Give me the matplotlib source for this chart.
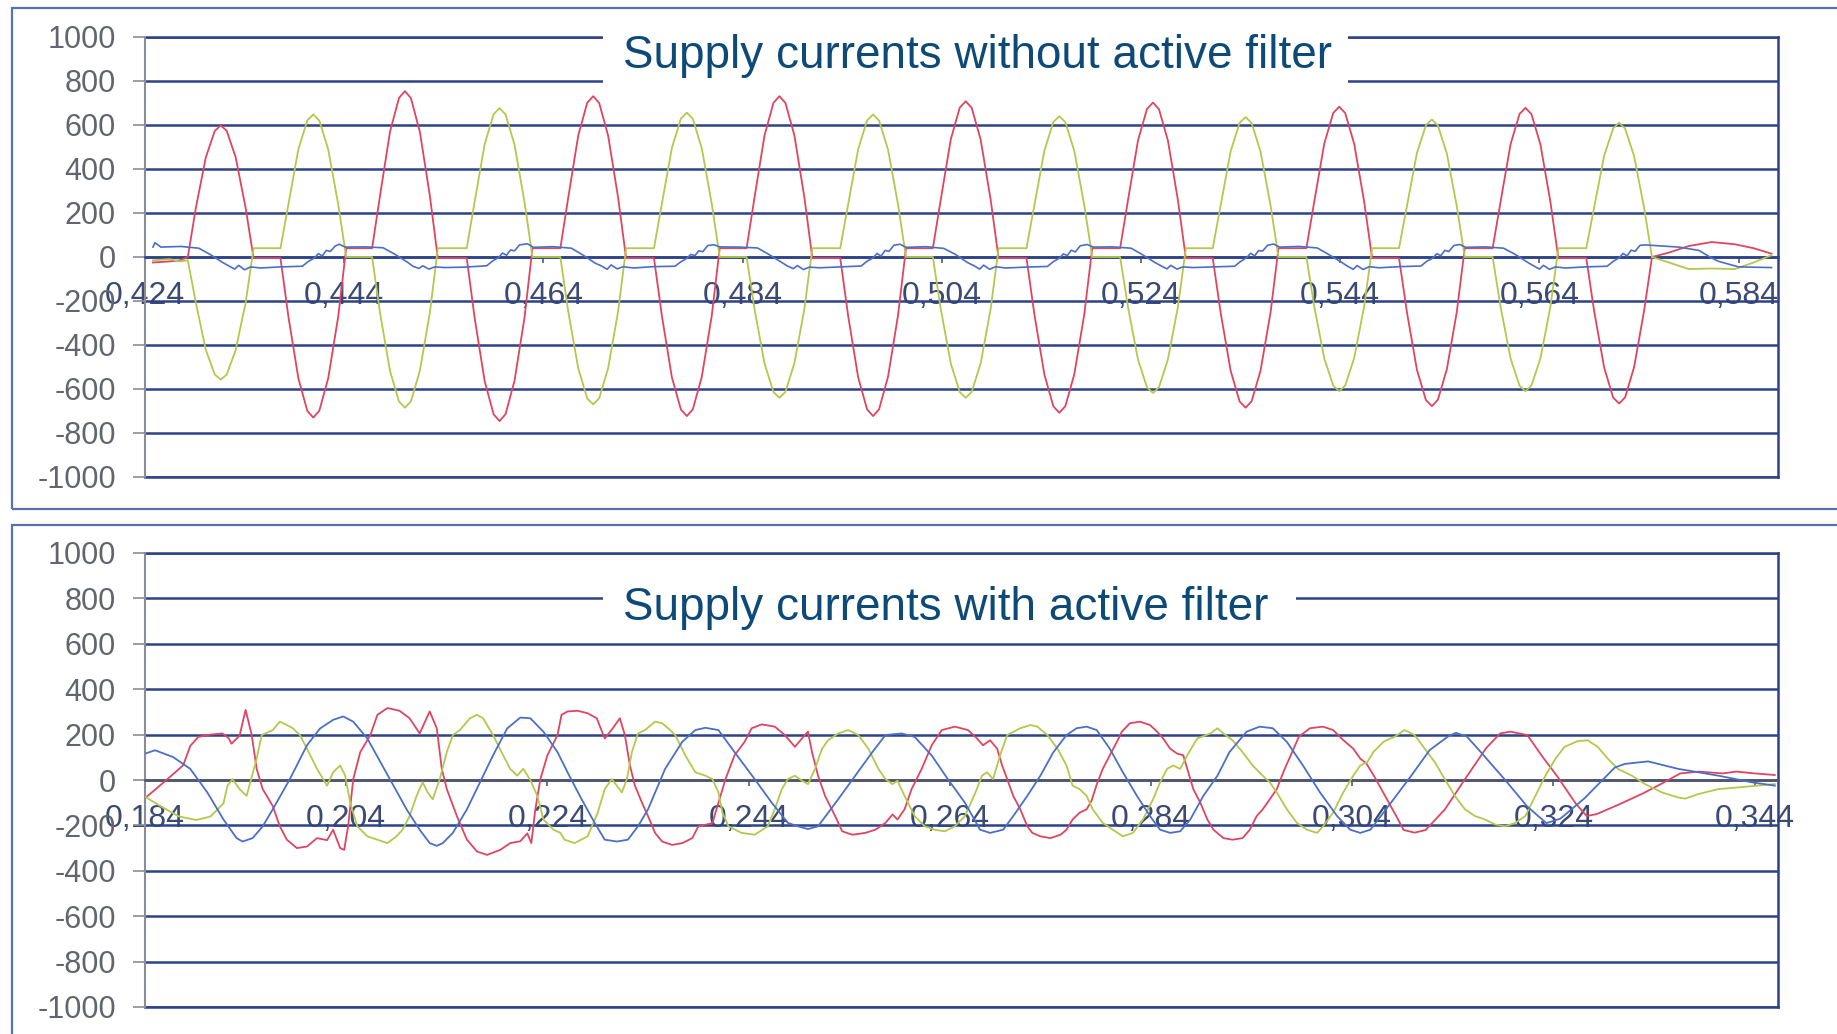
import matplotlib
matplotlib.use('Agg')
import matplotlib.pyplot as plt
from matplotlib.patches import Rectangle
from matplotlib.ticker import FixedLocator, FixedFormatter

plt.rcParams['font.family'] = ['Liberation Sans', 'DejaVu Sans']

# ---------------- data ----------------
y_ticks = [-1000, -800, -600, -400, -200, 0, 200, 400, 600, 800, 1000]
y_labels = ['-1000', '-800', '-600', '-400', '-200', '0', '200', '400', '600', '800', '1000']

top_xticks = [0.424, 0.444, 0.464, 0.484, 0.504, 0.524, 0.544, 0.564, 0.584]
top_xlabels = ['0,424', '0,444', '0,464', '0,484', '0,504', '0,524', '0,544', '0,564', '0,584']
bot_xticks = [0.184, 0.204, 0.224, 0.244, 0.264, 0.284, 0.304, 0.324, 0.344]
bot_xlabels = ['0,184', '0,204', '0,224', '0,244', '0,264', '0,284', '0,304', '0,324', '0,344']

title_top = 'Supply currents without active filter'
title_bot = 'Supply currents with active filter'

# --- top chart: supply currents without active filter ---
t_top = [
    0.4248, 0.4265, 0.4275,
    0.4283, 0.4291, 0.4301, 0.4310, 0.4316, 0.4322, 0.4331, 0.4341, 0.4349,
    0.4376, 0.4384, 0.4394, 0.4403, 0.4409, 0.4415, 0.4424, 0.4434, 0.4442,
    0.4468, 0.4476, 0.4486, 0.4495, 0.4501, 0.4507, 0.4516, 0.4526, 0.4534,
    0.4563, 0.4571, 0.4581, 0.4590, 0.4596, 0.4602, 0.4611, 0.4621, 0.4629,
    0.4657, 0.4665, 0.4675, 0.4684, 0.4690, 0.4696, 0.4705, 0.4715, 0.4723,
    0.4751, 0.4759, 0.4769, 0.4778, 0.4784, 0.4790, 0.4799, 0.4809, 0.4817,
    0.4844, 0.4852, 0.4862, 0.4871, 0.4877, 0.4883, 0.4892, 0.4902, 0.4910,
    0.4938, 0.4946, 0.4956, 0.4965, 0.4971, 0.4977, 0.4986, 0.4996, 0.5004,
    0.5031, 0.5039, 0.5049, 0.5058, 0.5064, 0.5070, 0.5079, 0.5089, 0.5097,
    0.5125, 0.5133, 0.5143, 0.5152, 0.5158, 0.5164, 0.5173, 0.5183, 0.5191,
    0.5219, 0.5227, 0.5237, 0.5246, 0.5252, 0.5258, 0.5267, 0.5277, 0.5285,
    0.5312, 0.5320, 0.5330, 0.5339, 0.5345, 0.5351, 0.5360, 0.5370, 0.5378,
    0.5406, 0.5414, 0.5424, 0.5433, 0.5439, 0.5445, 0.5454, 0.5464, 0.5472,
    0.5499, 0.5507, 0.5517, 0.5526, 0.5532, 0.5538, 0.5547, 0.5557, 0.5565,
    0.5593, 0.5601, 0.5611, 0.5620, 0.5626, 0.5632, 0.5641, 0.5651, 0.5659,
    0.5687, 0.5695, 0.5705, 0.5714, 0.5720, 0.5726, 0.5735, 0.5745, 0.5753,
    0.5770, 0.5790, 0.5813, 0.5836, 0.5855, 0.5873]

red_top = [
    -25, -20, -15,
    0, 222, 452, 573, 598, 574, 454, 224, -5,
    -5, -272, -552, -700, -730, -699, -550, -270, 40,
    40, 280, 570, 723, 754, 722, 568, 278, -5,
    -5, -278, -564, -715, -746, -714, -562, -276, 40,
    40, 272, 553, 701, 731, 700, 551, 270, -5,
    -5, -269, -547, -693, -723, -692, -545, -267, 40,
    40, 272, 553, 701, 731, 700, 552, 271, -5,
    -5, -269, -547, -693, -723, -692, -544, -266, 40,
    40, 263, 535, 679, 708, 678, 533, 261, -5,
    -5, -263, -535, -679, -708, -678, -533, -261, 40,
    40, 261, 531, 673, 702, 672, 529, 259, -5,
    -5, -255, -518, -657, -685, -656, -516, -253, 40,
    40, 254, 516, 655, 683, 654, 514, 252, -5,
    -5, -252, -513, -650, -678, -649, -511, -250, 40,
    40, 252, 513, 650, 678, 649, 511, 250, -5,
    -5, -248, -503, -639, -666, -638, -501, -246, 0,
    20, 50, 68, 58, 40, 15]

green_top = [
    -15, -10, -20,
    -15, -207, -421, -534, -557, -535, -423, -209, 40,
    40, 241, 490, 621, 648, 620, 488, 239, 0,
    0, -255, -518, -657, -685, -656, -516, -253, 40,
    40, 252, 512, 649, 677, 648, 510, 250, 0,
    0, -249, -507, -643, -670, -642, -505, -247, 40,
    40, 244, 496, 629, 656, 628, 494, 242, 0,
    0, -238, -484, -614, -640, -613, -482, -236, 40,
    40, 241, 490, 621, 648, 620, 488, 239, 0,
    0, -238, -484, -614, -640, -613, -483, -237, 40,
    40, 238, 484, 614, 640, 613, 482, 236, 0,
    0, -230, -467, -593, -618, -592, -465, -228, 40,
    40, 237, 481, 610, 636, 609, 479, 235, 0,
    0, -227, -461, -585, -610, -584, -459, -225, 40,
    40, 233, 473, 599, 625, 598, 471, 231, 0,
    0, -227, -461, -585, -610, -584, -460, -226, 40,
    40, 227, 461, 585, 610, 584, 459, 225, 0,
    -25, -55, -52, -55, -25, 8]

t_blue_top = [
    0.4248,
    0.4250, 0.4256, 0.4276, 0.4294, 0.4306, 0.4318, 0.4324, 0.4330, 0.4334, 0.4340, 0.4346,
    0.4356, 0.4376, 0.4398, 0.4404, 0.4410, 0.4414, 0.4418, 0.4422, 0.4426, 0.4431,
    0.4435, 0.4441, 0.4461, 0.4479, 0.4491, 0.4503, 0.4509, 0.4515, 0.4519, 0.4525, 0.4531,
    0.4541, 0.4561, 0.4583, 0.4589, 0.4595, 0.4599, 0.4603, 0.4607, 0.4611, 0.4616,
    0.4624, 0.4630, 0.4650, 0.4668, 0.4680, 0.4692, 0.4698, 0.4704, 0.4708, 0.4714, 0.4720,
    0.4730, 0.4750, 0.4772, 0.4778, 0.4784, 0.4788, 0.4792, 0.4796, 0.4800, 0.4805,
    0.4811, 0.4817, 0.4837, 0.4855, 0.4867, 0.4879, 0.4885, 0.4891, 0.4895, 0.4901, 0.4907,
    0.4917, 0.4937, 0.4959, 0.4965, 0.4971, 0.4975, 0.4979, 0.4983, 0.4987, 0.4992,
    0.4998, 0.5004, 0.5024, 0.5042, 0.5054, 0.5066, 0.5072, 0.5078, 0.5082, 0.5088, 0.5094,
    0.5104, 0.5124, 0.5146, 0.5152, 0.5158, 0.5162, 0.5166, 0.5170, 0.5174, 0.5179,
    0.5186, 0.5192, 0.5212, 0.5230, 0.5242, 0.5254, 0.5260, 0.5266, 0.5270, 0.5276, 0.5282,
    0.5292, 0.5312, 0.5334, 0.5340, 0.5346, 0.5350, 0.5354, 0.5358, 0.5362, 0.5367,
    0.5373, 0.5379, 0.5399, 0.5417, 0.5429, 0.5441, 0.5447, 0.5453, 0.5457, 0.5463, 0.5469,
    0.5479, 0.5499, 0.5521, 0.5527, 0.5533, 0.5537, 0.5541, 0.5545, 0.5549, 0.5554,
    0.5560, 0.5566, 0.5586, 0.5604, 0.5616, 0.5628, 0.5634, 0.5640, 0.5644, 0.5650, 0.5656,
    0.5666, 0.5686, 0.5708, 0.5714, 0.5720, 0.5724, 0.5728, 0.5732, 0.5736, 0.5741,
    0.5746, 0.5780, 0.5800, 0.5813, 0.5820, 0.5840, 0.5873]

blue_top = [
    45,
    65, 45, 48, 40, 10, -25, -40, -55, -38, -58, -45, -50, -45, -42, -20, -5, 15, 5, 30, 25, 50,
    58, 45, 46, 42, 12, -22, -42, -52, -40, -55, -45, -48, -46, -40, -18, -2, 18, 8, 32, 28, 55,
    60, 44, 47, 40, 8, -28, -40, -56, -36, -54, -44, -50, -44, -42, -22, -6, 12, 6, 28, 24, 52,
    56, 46, 45, 41, 10, -24, -41, -53, -39, -57, -46, -49, -45, -41, -19, -4, 16, 4, 30, 26, 54,
    58, 44, 47, 39, 11, -26, -39, -55, -37, -56, -44, -50, -46, -43, -21, -5, 14, 7, 31, 23, 51,
    57, 45, 46, 40, 9, -25, -40, -54, -38, -55, -45, -48, -45, -42, -20, -3, 17, 5, 29, 27, 53,
    59, 45, 48, 41, 10, -23, -41, -56, -39, -57, -44, -49, -44, -41, -19, -5, 15, 6, 30, 25, 52,
    57, 44, 46, 40, 11, -24, -40, -55, -38, -56, -45, -50, -45, -42, -20, -4, 16, 5, 31, 26, 53,
    55, 45, 30, -5, -20, -45, -48]

# --- bottom chart: supply currents with active filter ---
t_red_bot = [
    0.1840, 0.1860, 0.1878, 0.1885, 0.1893, 0.1905, 0.1917, 0.1923, 0.1926, 0.1934,
    0.1940, 0.1946, 0.1951, 0.1957, 0.1967, 0.1974, 0.1981, 0.1991, 0.2001, 0.2011,
    0.2021, 0.2027, 0.2034, 0.2038, 0.2042, 0.2047, 0.2054, 0.2064, 0.2071, 0.2081,
    0.2093, 0.2103, 0.2113, 0.2123, 0.2130, 0.2135, 0.2140, 0.2150, 0.2160, 0.2170,
    0.2180, 0.2193, 0.2203, 0.2213, 0.2220, 0.2224, 0.2228, 0.2233, 0.2240, 0.2250,
    0.2254, 0.2260, 0.2270, 0.2280, 0.2289, 0.2297, 0.2305, 0.2312, 0.2317, 0.2322,
    0.2327, 0.2334, 0.2340, 0.2347, 0.2354, 0.2364, 0.2374, 0.2384, 0.2390, 0.2404,
    0.2410, 0.2417, 0.2426, 0.2436, 0.2443, 0.2453, 0.2466, 0.2476, 0.2486, 0.2493,
    0.2499, 0.2503, 0.2509, 0.2516, 0.2526, 0.2533, 0.2543, 0.2556, 0.2566, 0.2576,
    0.2583, 0.2588, 0.2595, 0.2602, 0.2612, 0.2622, 0.2632, 0.2645, 0.2658, 0.2667,
    0.2673, 0.2680, 0.2687, 0.2692, 0.2697, 0.2703, 0.2710, 0.2717, 0.2722, 0.2730,
    0.2740, 0.2750, 0.2756, 0.2762, 0.2769, 0.2776, 0.2781, 0.2786, 0.2792, 0.2799,
    0.2806, 0.2811, 0.2819, 0.2829, 0.2839, 0.2846, 0.2852, 0.2859, 0.2866, 0.2872,
    0.2876, 0.2882, 0.2889, 0.2896, 0.2902, 0.2912, 0.2921, 0.2931, 0.2938, 0.2945,
    0.2951, 0.2958, 0.2965, 0.2972, 0.2978, 0.2987, 0.2998, 0.3011, 0.3021, 0.3031,
    0.3041, 0.3048, 0.3054, 0.3062, 0.3073, 0.3084, 0.3091, 0.3102, 0.3113, 0.3132,
    0.3153, 0.3173, 0.3187, 0.3197, 0.3214, 0.3229, 0.3244, 0.3262, 0.3273, 0.3283,
    0.3304, 0.3329, 0.3348, 0.3366, 0.3385, 0.3408, 0.3422, 0.3440, 0.3460]

red_bot = [
    -80, -5, 65, 150, 190, 200, 205, 185, 160, 195,
    309, 200, 49, -40, -115, -204, -263, -300, -293, -256,
    -265, -219, -300, -308, -200, 4, 123, 198, 287, 317,
    305, 272, 205, 302, 228, 49, -40, -159, -263, -315,
    -330, -308, -278, -270, -235, -278, -129, 4, 109, 198,
    287, 302, 305, 294, 272, 183, 228, 272, 198, 64,
    -25, -100, -159, -233, -271, -286, -278, -256, -204, -190,
    -100, 4, 109, 168, 228, 245, 235, 198, 146, 183,
    213, 123, 19, -70, -159, -226, -241, -233, -219, -189,
    -152, -174, -129, -40, 49, 153, 220, 235, 220, 183,
    153, 175, 138, 64, 4, -70, -129, -204, -233, -248,
    -256, -241, -219, -174, -144, -129, -90, -20, 49, 109,
    168, 213, 250, 257, 242, 213, 183, 138, 116, 109,
    49, -40, -100, -174, -219, -256, -263, -256, -220, -159,
    -129, -85, -40, 40, 100, 191, 228, 235, 220, 176,
    138, 94, 73, 15, -73, -161, -220, -232, -220, -130,
    10, 140, 205, 213, 198, 103, 15, -103, -159, -150,
    -110, -59, -15, 29, 37, 29, 37, 29, 22]

t_green_bot = [
    0.1840, 0.1856, 0.1874, 0.1891, 0.1905, 0.1918, 0.1922, 0.1927, 0.1934, 0.1941,
    0.1951, 0.1956, 0.1967, 0.1974, 0.1981, 0.1987, 0.1994, 0.2001, 0.2011, 0.2021,
    0.2027, 0.2034, 0.2039, 0.2044, 0.2051, 0.2061, 0.2071, 0.2081, 0.2090, 0.2096,
    0.2103, 0.2110, 0.2116, 0.2121, 0.2126, 0.2133, 0.2140, 0.2146, 0.2153, 0.2163,
    0.2170, 0.2176, 0.2186, 0.2196, 0.2203, 0.2210, 0.2216, 0.2223, 0.2230, 0.2236,
    0.2246, 0.2253, 0.2257, 0.2267, 0.2280, 0.2290, 0.2297, 0.2304, 0.2309, 0.2314,
    0.2319, 0.2324, 0.2330, 0.2337, 0.2347, 0.2354, 0.2360, 0.2367, 0.2377, 0.2387,
    0.2397, 0.2404, 0.2410, 0.2414, 0.2420, 0.2433, 0.2446, 0.2459, 0.2466, 0.2473,
    0.2479, 0.2486, 0.2493, 0.2499, 0.2506, 0.2513, 0.2519, 0.2529, 0.2539, 0.2549,
    0.2559, 0.2569, 0.2576, 0.2583, 0.2588, 0.2595, 0.2605, 0.2615, 0.2625, 0.2635,
    0.2645, 0.2655, 0.2665, 0.2672, 0.2677, 0.2683, 0.2690, 0.2697, 0.2710, 0.2720,
    0.2727, 0.2737, 0.2747, 0.2756, 0.2762, 0.2769, 0.2776, 0.2782, 0.2792, 0.2802,
    0.2812, 0.2822, 0.2832, 0.2842, 0.2849, 0.2856, 0.2862, 0.2869, 0.2876, 0.2886,
    0.2899, 0.2906, 0.2912, 0.2921, 0.2931, 0.2941, 0.2951, 0.2958, 0.2965, 0.2975,
    0.2985, 0.2995, 0.3005, 0.3011, 0.3021, 0.3031, 0.3041, 0.3048, 0.3055, 0.3061,
    0.3071, 0.3078, 0.3082, 0.3092, 0.3102, 0.3112, 0.3122, 0.3132, 0.3142, 0.3152,
    0.3162, 0.3172, 0.3182, 0.3192, 0.3202, 0.3212, 0.3222, 0.3232, 0.3242, 0.3251,
    0.3264, 0.3274, 0.3284, 0.3294, 0.3304, 0.3318, 0.3331, 0.3348, 0.3364, 0.3371,
    0.3384, 0.3404, 0.3423, 0.3443, 0.3460]

green_bot = [
    -73, -117, -161, -176, -161, -103, -25, 4, -40, -70,
    94, 198, 220, 257, 242, 228, 198, 138, 49, -25,
    34, 64, 19, -100, -204, -248, -263, -278, -248, -219,
    -159, -70, -10, -55, -85, 4, 123, 198, 220, 272,
    287, 272, 198, 109, 49, 19, 49, 0, -70, -174,
    -219, -233, -263, -278, -248, -144, -40, 4, -25, -55,
    4, 123, 205, 220, 257, 250, 228, 198, 109, 34,
    19, 4, -55, -144, -204, -233, -241, -204, -129, -40,
    4, 19, -3, -18, 49, 138, 175, 205, 220, 198,
    138, 49, 4, -18, -3, -70, -159, -204, -219, -226,
    -204, -159, -60, 19, 34, 4, 109, 198, 228, 242,
    235, 198, 138, 64, -25, -40, -70, -129, -189, -219,
    -248, -233, -174, -85, -10, 49, 64, 49, 109, 183,
    205, 228, 205, 175, 123, 64, 19, -10, -55, -129,
    -189, -219, -233, -204, -144, -55, 19, 64, 79, 123,
    168, 183, 190, 220, 198, 138, 79, 4, -70, -129,
    -159, -174, -196, -204, -189, -159, -70, 19, 94, 146,
    171, 175, 146, 94, 49, 19, -18, -55, -77, -82,
    -62, -40, -33, -25, -18]

t_blue_bot = [
    0.1840, 0.1850, 0.1868, 0.1885, 0.1902, 0.1918, 0.1931, 0.1937, 0.1947, 0.1957,
    0.1967, 0.1984, 0.2001, 0.2014, 0.2027, 0.2037, 0.2047, 0.2061, 0.2074, 0.2087,
    0.2100, 0.2113, 0.2123, 0.2130, 0.2136, 0.2146, 0.2160, 0.2173, 0.2186, 0.2200,
    0.2213, 0.2223, 0.2236, 0.2250, 0.2260, 0.2274, 0.2287, 0.2297, 0.2309, 0.2320,
    0.2330, 0.2340, 0.2357, 0.2374, 0.2387, 0.2397, 0.2410, 0.2426, 0.2446, 0.2463,
    0.2479, 0.2489, 0.2499, 0.2509, 0.2529, 0.2546, 0.2563, 0.2576, 0.2592, 0.2605,
    0.2622, 0.2638, 0.2655, 0.2670, 0.2680, 0.2693, 0.2703, 0.2717, 0.2730, 0.2743,
    0.2756, 0.2766, 0.2776, 0.2786, 0.2799, 0.2812, 0.2826, 0.2839, 0.2849, 0.2859,
    0.2869, 0.2879, 0.2892, 0.2906, 0.2918, 0.2935, 0.2948, 0.2961, 0.2975, 0.2991,
    0.3008, 0.3025, 0.3038, 0.3048, 0.3058, 0.3071, 0.3098, 0.3117, 0.3135, 0.3143,
    0.3154, 0.3169, 0.3192, 0.3214, 0.3233, 0.3247, 0.3271, 0.3301, 0.3311, 0.3334,
    0.3364, 0.3404, 0.3437, 0.3460]

blue_bot = [
    116, 131, 101, 49, -55, -174, -256, -271, -256, -204,
    -129, 4, 153, 227, 265, 280, 257, 183, 79, -25,
    -129, -219, -278, -290, -278, -233, -129, -10, 109, 227,
    275, 272, 213, 123, 34, -85, -189, -263, -271, -263,
    -204, -129, 49, 168, 220, 230, 220, 123, 4, -100,
    -189, -204, -216, -204, -85, 19, 123, 198, 205, 190,
    108, 4, -100, -219, -233, -219, -159, -70, 19, 123,
    198, 228, 235, 220, 138, 34, -70, -159, -219, -233,
    -226, -174, -70, 19, 123, 213, 235, 228, 168, 64,
    -55, -159, -219, -233, -219, -144, 15, 132, 191, 208,
    191, 117, 0, -117, -190, -170, -80, 55, 71, 82,
    49, 19, -10, -25]

# ---------------- style ----------------
W, H = 1837, 1034
RED = '#df4560'
GREEN = '#b3c84c'
BLUE = '#4b6fc6'
GRID = '#2d4287'
FRAME = '#5572b8'
TITLE = '#0d4a78'
YLAB = '#62666c'
XLAB = '#3b4a72'

fig = plt.figure(figsize=(W / 100, H / 100), dpi=100)
fig.patch.set_facecolor('white')


def px_rect(x0, y0, x1, y1):
    return [x0 / W, 1 - y1 / H, (x1 - x0) / W, (y1 - y0) / H]


# outer frames
fig.add_artist(Rectangle((12 / W, 1 - 509 / H), 2.0, (509 - 8) / H,
                         transform=fig.transFigure, fill=False, ec=FRAME, lw=1.6, zorder=0))
fig.add_artist(Rectangle((12 / W, -0.5), 2.0, 0.5 + 1 - 525 / H,
                         transform=fig.transFigure, fill=False, ec=FRAME, lw=1.6, zorder=0))

ax_top = fig.add_axes(px_rect(145, 37, 1778, 477))
ax_bot = fig.add_axes(px_rect(145, 553, 1778, 1007))


def style(ax, xlim, xticks, xlabels, zero_color):
    ax.set_xlim(*xlim)
    ax.set_ylim(-1000, 1000)
    ax.set_facecolor('none')
    ax.yaxis.set_major_locator(FixedLocator(y_ticks))
    ax.yaxis.set_major_formatter(FixedFormatter(y_labels))
    ax.xaxis.set_major_locator(FixedLocator(xticks))
    ax.xaxis.set_major_formatter(FixedFormatter(xlabels))
    ax.set_axisbelow(True)
    ax.grid(axis='y', color=GRID, lw=1.8)
    ax.grid(axis='x', visible=False)
    ax.spines['top'].set_visible(False)
    ax.spines['right'].set_color(GRID)
    ax.spines['right'].set_linewidth(1.8)
    ax.spines['left'].set_color('#8a8d94')
    ax.spines['left'].set_linewidth(1.5)
    ax.spines['bottom'].set_position(('data', 0))
    ax.spines['bottom'].set_color(zero_color)
    ax.spines['bottom'].set_linewidth(1.8)
    for s in ax.spines.values():
        s.set_zorder(1)
    for yv in (1000, -1000):
        ax.axhline(yv, color=GRID, lw=1.8, clip_on=False, zorder=1)
    ax.tick_params(axis='y', direction='out', length=9, width=1.2, color='#8a8d94',
                   labelsize=22, labelcolor=YLAB, pad=12)
    ax.tick_params(axis='x', direction='out', length=4.5, width=1.2, color='#555a66',
                   labelsize=23, labelcolor=XLAB, pad=13)


style(ax_top, (0.424, 0.58795), top_xticks, top_xlabels, GRID)
style(ax_bot, (0.184, 0.34632), bot_xticks, bot_xlabels, '#50566a')

ax_top.plot(t_top, red_top, color=RED, lw=1.3, zorder=3)
ax_top.plot(t_top, green_top, color=GREEN, lw=1.3, zorder=3)
ax_top.plot(t_blue_top, blue_top, color=BLUE, lw=1.2, zorder=4)

ax_bot.plot(t_red_bot, red_bot, color=RED, lw=1.3, zorder=3)
ax_bot.plot(t_green_bot, green_bot, color=GREEN, lw=1.3, zorder=3)
ax_bot.plot(t_blue_bot, blue_bot, color=BLUE, lw=1.3, zorder=4)

# title boxes
fig.add_artist(Rectangle((603 / W, 1 - 84 / H), 745 / W, 72 / H, transform=fig.transFigure,
                         fc='white', ec='none', zorder=5))
fig.text(623 / W, 1 - 68 / H, title_top, ha='left', va='baseline', fontsize=33,
         color=TITLE, zorder=6)
fig.add_artist(Rectangle((603 / W, 1 - 638 / H), 693 / W, 73 / H, transform=fig.transFigure,
                         fc='white', ec='none', zorder=5))
fig.text(623 / W, 1 - 620 / H, title_bot, ha='left', va='baseline', fontsize=33,
         color=TITLE, zorder=6)

fig.savefig('out.png', dpi=100, facecolor='white')
